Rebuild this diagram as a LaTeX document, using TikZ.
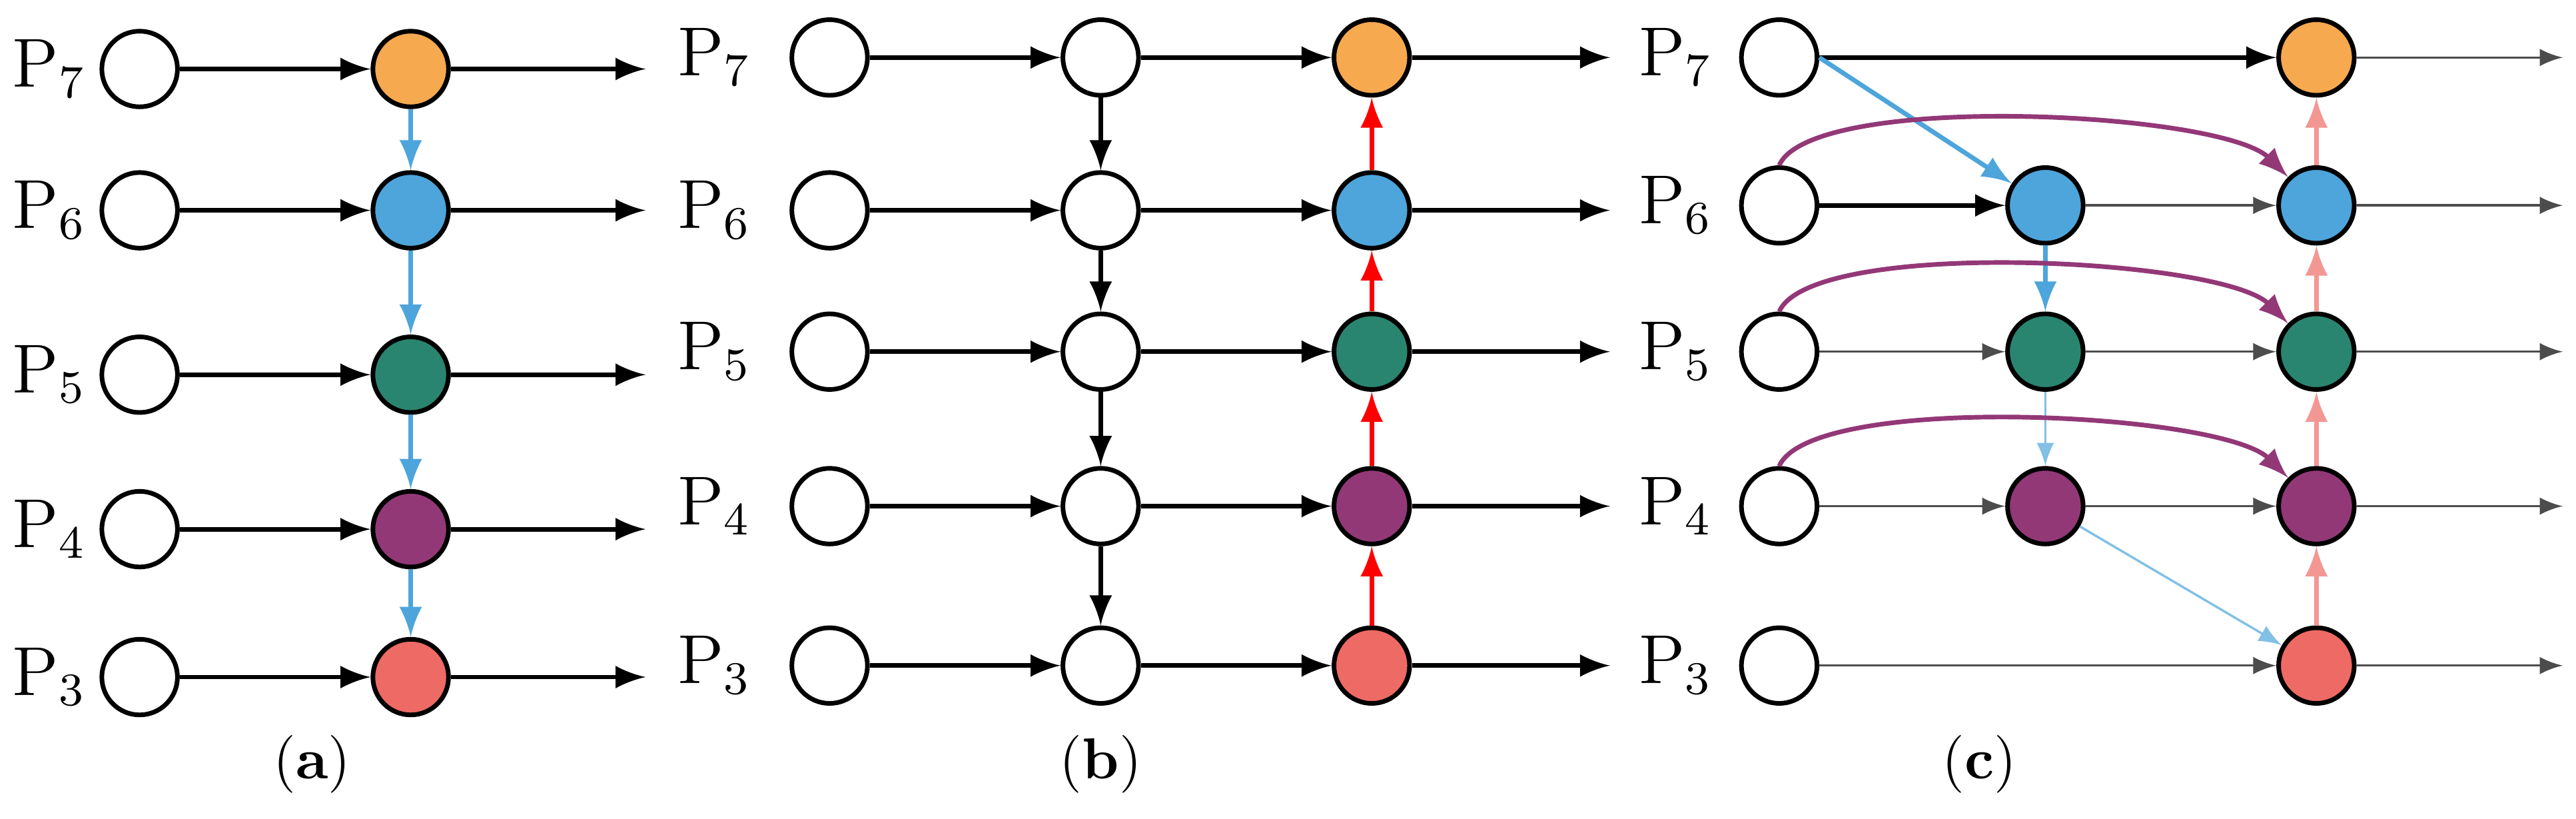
\documentclass[tikz,border=0pt]{standalone}
\usepackage{tikz}
\usetikzlibrary{arrows,calc,positioning}
\definecolor{corange}{HTML}{F6A94F}
\definecolor{cblue}{HTML}{4DA5DB}
\definecolor{cgreen}{HTML}{2A8570}
\definecolor{cpurple}{HTML}{933877}
\definecolor{cred}{HTML}{EE6A64}
\tikzset{
        dot/.style = {draw, circle, thick, minimum size=0.46cm, inner sep=0pt, fill=white},
        lab/.style = {font=\large},
        caption/.style = {font=\normalsize},
        arrow/.style = {draw, thick, -latex},
        thin arrow/.style = {draw, -latex, black!70},
        up arrow/.style = {draw, thick, -latex, red},
        loop arrow/.style = {draw, thick, -latex, cpurple},
    }

\begin{document}
\begin{tikzpicture}[x=0.01cm,y=0.01cm]
                \useasboundingbox (0,0) rectangle (1568,498);
                % panel (a)
                \foreach \n/\y/\c in {7/456/corange,6/370/cblue,5/270/cgreen,4/176/cpurple,3/86/cred} {
                    \node[lab] (la\n) at (30,\y) {P\textsubscript{\n}};
                    \node[dot] (a\n) at (85,\y) {};
                    \node[dot, fill=\c] (ac\n) at (250,\y) {};
                    \coordinate (ae\n) at (393,\y);
                    \draw[arrow] (a\n) -- (ac\n);
                    \draw[arrow] (ac\n) -- (ae\n);
                }
                \foreach \i/\j in {7/6,6/5,5/4,4/3}
                    \draw[arrow, cblue] (ac\i) -- (ac\j);
                \node[caption] (capa) at (190,33) {(\textbf{a})};

                % panel (b)
                \foreach \n/\y/\c in {7/463/corange,6/370/cblue,5/284/cgreen,4/190/cpurple,3/93/cred} {
                    \node[lab] (lb\n) at (435,\y) {P\textsubscript{\n}};
                    \node[dot] (b\n) at (505,\y) {};
                    \node[dot] (bm\n) at (670,\y) {};
                    \node[dot, fill=\c] (bc\n) at (835,\y) {};
                    \coordinate (be\n) at (980,\y);
                    \draw[arrow] (b\n) -- (bm\n);
                    \draw[arrow] (bm\n) -- (bc\n);
                    \draw[arrow] (bc\n) -- (be\n);
                }
                \foreach \i/\j in {7/6,6/5,5/4,4/3} {
                    \draw[arrow] (bm\i) -- (bm\j);
                    \draw[up arrow] (bc\j) -- (bc\i);
                }
                \node[caption] (capb) at (670,33) {(\textbf{b})};

                % panel (c)
                \foreach \n/\y in {7/463,6/373,5/284,4/190,3/93} {
                    \node[lab] (lc\n) at (1020,\y) {P\textsubscript{\n}};
                    \node[dot] (c\n) at (1083,\y) {};
                    \coordinate (ce\n) at (1560,\y);
                }
                \foreach \n/\c in {6/cblue,5/cgreen,4/cpurple}
                    \node[dot, fill=\c] (cm\n) at (1245,0 |- c\n) {};
                \foreach \n/\c in {7/corange,6/cblue,5/cgreen,4/cpurple,3/cred} {
                    \node[dot, fill=\c] (cc\n) at (1410,0 |- c\n) {};
                    \draw[thin arrow] (cc\n) -- (ce\n);
                }
                \draw[arrow] (c7) -- (cc7);
                \draw[arrow] (c6) -- (cm6);
                \draw[thin arrow] (c5) -- (cm5);
                \draw[thin arrow] (c4) -- (cm4);
                \draw[thin arrow] (c3) -- (cc3);
                \foreach \n in {6,5,4}
                    \draw[thin arrow] (cm\n) -- (cc\n);
                \draw[thick, -latex, cblue] (c7.east) -- (cm6);
                \draw[thick, -latex, cblue] (cm6) -- (cm5);
                \draw[-latex, cblue!70] (cm5) -- (cm4);
                \draw[-latex, cblue!70] (cm4) -- (cc3);
                \foreach \i/\j in {7/6,6/5,5/4,4/3}
                    \draw[-latex, thick, cred!70] (cc\j) -- (cc\i);
                \foreach \n in {6,5,4}
                    \draw[loop arrow] (c\n.north) .. controls ($(c\n.north)+(20,45)$) and ($(cc\n.north west)+(-40,40)$) .. (cc\n.north west);
                \node[caption] (capc) at (1205,33) {(\textbf{c})};
\end{tikzpicture}
\end{document}
